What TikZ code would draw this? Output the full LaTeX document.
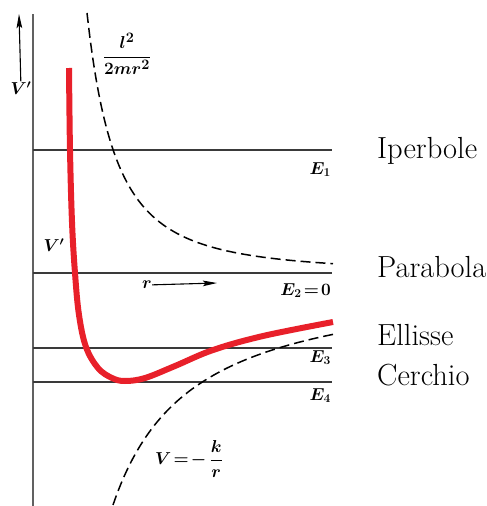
\documentclass[tikz,border=0pt]{standalone}
\usepackage{tikz}
\usetikzlibrary{arrows.meta, positioning}
\usepackage{amsmath}
\definecolor{curveRed}{HTML}{E8202A}
\definecolor{lineDark}{HTML}{3A3A3A}
\tikzset{
  levelLine/.style={draw=lineDark, line width=1.3pt},
  axisLine/.style={draw=lineDark!80, line width=1.2pt},
  dashCurve/.style={draw=black, line width=1.5pt, dash pattern=on 10pt off 5pt},
  redCurve/.style={draw=curveRed, line width=6pt, line join=round},
  arrowK/.style={-{Stealth[length=5mm, width=2mm, inset=1mm]}, black, line width=1.1pt},
  labE/.style={font=\fontsize{17}{19}\selectfont\boldmath, inner sep=0pt},
  labFrac/.style={font=\fontsize{19}{21}\selectfont\boldmath, inner sep=0pt},
  labOrbit/.style={anchor=base west, font=\fontsize{30.5}{34}\selectfont, inner sep=0pt},
}

\begin{document}
\begin{tikzpicture}[x=1pt, y=-1pt]
    \useasboundingbox (0,0) rectangle (487,506);
    % axis
    \draw[axisLine] (33,14) -- (33,506);
    \node[labE] (vAx) at (21,88) {$V'$};
    \coordinate (vTop) at (19,14);
    \draw[arrowK] (vAx) -- (vTop);
    % energy levels
    \draw[levelLine] (33,150) -- (332,150);
    \draw[levelLine] (33,273) -- (332,273);
    \draw[levelLine] (33,348) -- (332,348);
    \draw[levelLine] (33,382) -- (332,382);
    \node[labE, anchor=base east] (e1) at (331,174) {$E_1$};
    \node[labE, anchor=base east] (e2) at (331,295) {$E_2\!=\!0$};
    \node[labE, anchor=base east] (e3) at (331,362) {$E_3$};
    \node[labE, anchor=base east] (e4) at (331,400) {$E_4$};
    % centrifugal term
    \draw[dashCurve] plot[domain=87:333, samples=80, smooth]
      (\x, {273-(928.8/(\x-29.4))^2});
    \node[labFrac] (cent) at (127,54) {$\dfrac{l^2}{2mr^2}$};
    % attractive potential
    \draw[dashCurve] plot[domain=113:333, samples=80, smooth]
      (\x, {273+62*(296.15/(\x-33.85))});
    \node[labE, font=\fontsize{18}{20}\selectfont\boldmath] (pot) at (189,459)
      {$V\!=\!-\,\dfrac{k}{r}$};
    % effective potential
    \draw[redCurve] plot[smooth, tension=0.6] coordinates {
      (69,68) (70,150) (72,222) (75,273) (79,315) (86,347) (98,368)
      (112,378) (125,381) (145,378) (175,366) (213,350) (263,336) (333,322)};
    \node[labE] (vEff) at (54,245) {$V'$};
    % r direction
    \node[labE] (rLab) at (147,285) {$r$};
    \coordinate (rTip) at (217,283);
    \draw[arrowK] (rLab) -- (rTip);
    % orbit names
    \node[labOrbit] (iper) at (377,158) {Iperbole};
    \node[labOrbit] (para) at (377,277) {Parabola};
    \node[labOrbit] (elli) at (377,345) {Ellisse};
    \node[labOrbit] (cerc) at (377,385) {Cerchio};
\end{tikzpicture}
\end{document}
